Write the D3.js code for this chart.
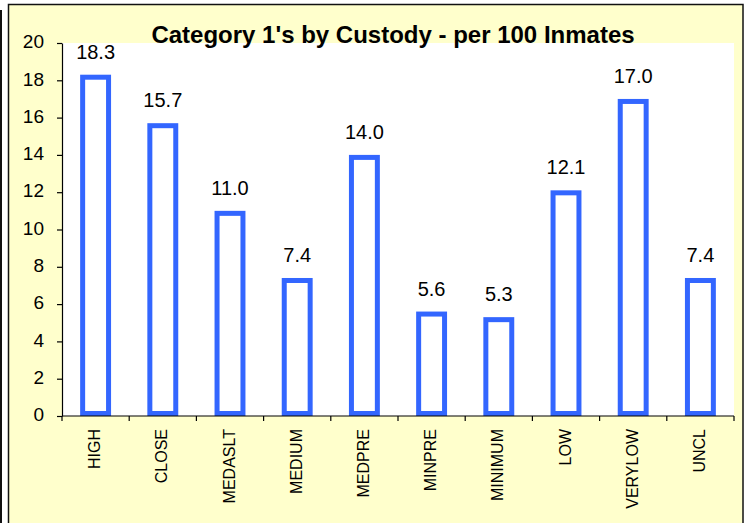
<!DOCTYPE html>
<html>
<head>
<meta charset="utf-8">
<script src="https://cdn.jsdelivr.net/npm/d3@7"></script>
<style>
  body { margin: 0; background: #fff; }
  svg { display: block; font-family: Arial, "Liberation Sans", sans-serif; }
</style>
</head>
<body>
<div id="chart"></div>
<script>
const categories = ["HIGH", "CLOSE", "MEDASLT", "MEDIUM", "MEDPRE", "MINPRE", "MINIMUM", "LOW", "VERYLOW", "UNCL"];
const values = [18.3, 15.7, 11.0, 7.4, 14.0, 5.6, 5.3, 12.1, 17.0, 7.4];
const yTicks = [0, 2, 4, 6, 8, 10, 12, 14, 16, 18, 20];
const title = "Category 1's by Custody - per 100 Inmates";

const W = 749, H = 523;
const PLOT = { LEFT: 62, RIGHT: 734, TOP: 43, BOTTOM: 416 };
const BAR_COLOR = "#3366ff";
const STROKE = 5;

const svg = d3.select("#chart").append("svg")
  .attr("width", W)
  .attr("height", H);

// outer frame bits
svg.append("line")
  .attr("x1", 1).attr("x2", 1).attr("y1", 10).attr("y2", H)
  .attr("stroke", "#111").attr("stroke-width", 2);

svg.append("rect")
  .attr("x", 8.5).attr("y", 4.5)
  .attr("width", 734.5).attr("height", H)
  .attr("fill", "#ffffcc")
  .attr("stroke", "#111").attr("stroke-width", 1.5);

// plot area
svg.append("rect")
  .attr("x", PLOT.LEFT).attr("y", PLOT.TOP)
  .attr("width", PLOT.RIGHT - PLOT.LEFT).attr("height", PLOT.BOTTOM - PLOT.TOP)
  .attr("fill", "#fff");

const x = d3.scaleBand()
  .domain(categories)
  .range([PLOT.LEFT, PLOT.RIGHT])
  .paddingInner(0.54)
  .paddingOuter(0.27);

const y = d3.scaleLinear()
  .domain([0, 20])
  .range([PLOT.BOTTOM, PLOT.TOP]);

// bars (stroke drawn inside the bar extent)
svg.append("g").selectAll("rect")
  .data(categories)
  .join("rect")
  .attr("x", (d) => x(d) + STROKE / 2)
  .attr("y", (d, i) => y(values[i]) + STROKE / 2)
  .attr("width", x.bandwidth() - STROKE)
  .attr("height", (d, i) => y(0) - y(values[i]) - STROKE)
  .attr("fill", "#fff")
  .attr("stroke", BAR_COLOR)
  .attr("stroke-width", STROKE);

// value labels
svg.append("g").selectAll("text")
  .data(categories)
  .join("text")
  .attr("x", (d) => x(d) + x.bandwidth() / 2)
  .attr("y", (d, i) => y(values[i]) - 16)
  .attr("text-anchor", "middle")
  .attr("font-size", 20)
  .attr("fill", "#000")
  .text((d, i) => values[i].toFixed(1));

// y axis
const yAxis = svg.append("g")
  .attr("transform", `translate(${PLOT.LEFT},0)`)
  .call(d3.axisLeft(y).tickValues(yTicks).tickSize(5).tickPadding(13).tickSizeOuter(0));
yAxis.select(".domain").attr("stroke", "#000").attr("stroke-width", 1.2);
yAxis.selectAll(".tick line").attr("stroke", "#000").attr("stroke-width", 1.2);
yAxis.selectAll(".tick text")
  .attr("font-size", 19)
  .attr("dy", "0.25em")
  .attr("font-family", "Arial, 'Liberation Sans', sans-serif")
  .attr("fill", "#000");

// x axis: ticks sit on the band boundaries
const step = x.step();
const boundaries = d3.range(categories.length + 1).map((i) => PLOT.LEFT + i * step);
const xAxisG = svg.append("g");
xAxisG.append("line")
  .attr("x1", PLOT.LEFT).attr("x2", PLOT.RIGHT)
  .attr("y1", PLOT.BOTTOM).attr("y2", PLOT.BOTTOM)
  .attr("stroke", "#000").attr("stroke-width", 1.2);
xAxisG.selectAll("line.tk")
  .data(boundaries)
  .join("line")
  .attr("class", "tk")
  .attr("x1", (d) => d).attr("x2", (d) => d)
  .attr("y1", PLOT.BOTTOM).attr("y2", PLOT.BOTTOM + 5)
  .attr("stroke", "#000").attr("stroke-width", 1.2);
xAxisG.selectAll("text")
  .data(categories)
  .join("text")
  .attr("transform", (d) => `translate(${x(d) + x.bandwidth() / 2 + 4.5},${PLOT.BOTTOM + 13}) rotate(-90)`)
  .attr("text-anchor", "end")
  .attr("font-size", 16)
  .attr("fill", "#000")
  .text((d) => d);

// title
svg.append("text")
  .attr("x", 393)
  .attr("y", 43)
  .attr("text-anchor", "middle")
  .attr("font-size", 24)
  .attr("font-weight", "bold")
  .attr("fill", "#000")
  .text(title);
</script>
</body>
</html>
